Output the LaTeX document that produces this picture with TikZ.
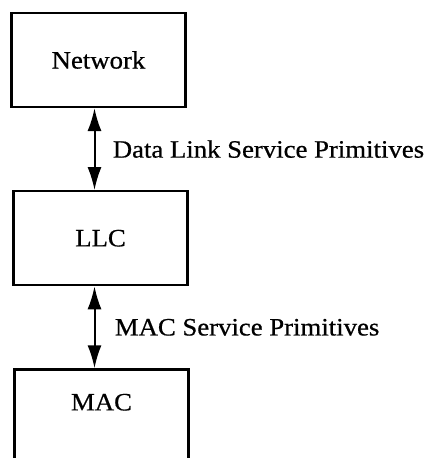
\documentclass[tikz,border=0pt]{standalone}
\usepackage{fontspec}
\setmainfont[FakeStretch=1.07,FakeBold=0.6]{Liberation Serif}
\usepackage{tikz}
\usetikzlibrary{arrows.meta,positioning}

\begin{document}
\begin{tikzpicture}[x=1pt,y=-1pt,
node distance=82pt,
box/.style={draw,line width=2.2pt,minimum width=174pt,minimum height=94pt,font=\fontsize{25}{30}\selectfont},
arr/.style={{Latex[length=23pt,width=14pt]}-{Latex[length=23pt,width=14pt]},line width=2pt},
lbl/.style={font=\fontsize{25}{30}\selectfont}]
\useasboundingbox (0,0) rectangle (435,458);
\node[box] (network) at (98.5,60) {Network};
\node[box,below=of network,xshift=2pt] (llc) {LLC};
\node[box,below=of llc,xshift=1pt,minimum height=112pt,
  label={[lbl,name=maclbl,anchor=north,yshift=-22pt]north:MAC}] (mac) {};
\draw[arr] ([xshift=-4pt]network.south) -- ([xshift=-6pt]llc.north)
  node[lbl,midway,right=14pt] (dlsp) {Data Link Service Primitives};
\draw[arr] ([xshift=-6pt]llc.south) -- ([xshift=-7pt]mac.north)
  node[lbl,midway,right=16pt] (macsp) {MAC Service Primitives};
\end{tikzpicture}
\end{document}
